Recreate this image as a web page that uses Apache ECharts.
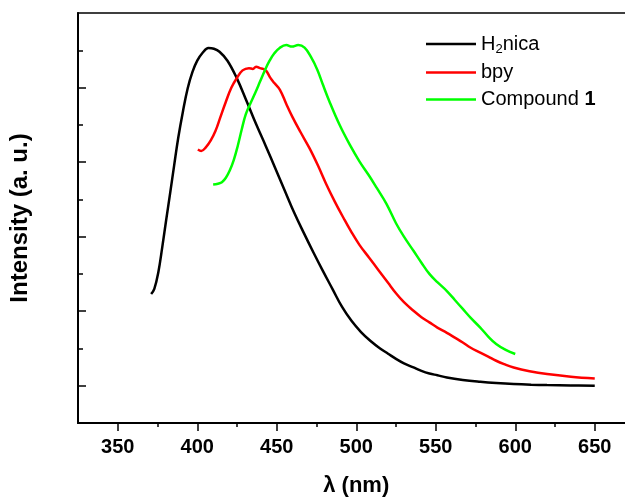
<!DOCTYPE html>
<html>
<head>
<meta charset="utf-8">
<script src="https://cdn.jsdelivr.net/npm/echarts@6/dist/echarts.min.js"></script>
<style>
html,body{margin:0;padding:0;background:#fff;}
#c{width:625px;height:497px;}
</style>
</head>
<body>
<div id="c"></div>
<script>
// wavelengths (nm) and intensities (a.u.)
var h2nicaX = [371,373,375.5,378,380.5,383,385.5,388,391,394,397,400,403.5,407,410.5,414,419,425,431,437,443,449,455,461,467,473,479,485,491,497,503,509,515,520,525,530,536,541,546,551,557,567,578,588,599,610,620,635,650];
var h2nicaY = [1.23,1.30,1.52,1.86,2.23,2.59,2.96,3.32,3.68,3.99,4.21,4.36,4.47,4.53,4.52,4.48,4.36,4.12,3.82,3.51,3.22,2.92,2.62,2.32,2.05,1.79,1.54,1.30,1.06,0.87,0.72,0.60,0.50,0.43,0.36,0.30,0.245,0.20,0.165,0.14,0.11,0.078,0.054,0.037,0.023,0.014,0.009,0.004,0.0];

var bpyX = [400.4,402.5,405.5,408.5,411.5,414.5,418,421.5,425,428.5,432.5,435,437,439.5,441.5,443.5,446,448.5,452,456,460,465,470.5,476,481,486.5,492,497,502,508,514,520,525,530,536,541,546,551,557,562,567,572,578,583,588,593,599,609,620,635,650];
var bpyY = [3.17,3.15,3.20,3.29,3.42,3.60,3.81,4.00,4.13,4.23,4.26,4.25,4.28,4.26,4.25,4.22,4.13,4.06,3.97,3.78,3.60,3.40,3.19,2.95,2.71,2.47,2.25,2.06,1.89,1.72,1.55,1.38,1.24,1.12,1.005,0.92,0.85,0.78,0.71,0.645,0.58,0.51,0.445,0.39,0.335,0.29,0.245,0.195,0.157,0.122,0.098];

var compX = [410,413,415.5,418,420.5,423,425.5,428,430.5,433.5,436.5,439.5,442.5,445.5,448.5,452,456,459.5,463.5,467.5,471.5,475.5,479,483,489.5,496,502,508,513,519,525,530,536,541,546,551,557,562,567,572,578,583,588,594,600];
var compY = [2.70,2.71,2.73,2.79,2.89,3.03,3.22,3.44,3.64,3.79,3.93,4.08,4.23,4.36,4.46,4.535,4.57,4.55,4.57,4.535,4.41,4.24,4.04,3.82,3.50,3.23,3.01,2.82,2.65,2.44,2.18,2.00,1.81,1.65,1.50,1.39,1.27,1.15,1.03,0.91,0.78,0.66,0.56,0.48,0.425];

var xMajorTicks = [350,400,450,500,550,600,650];
var xMinorTicks = [375,425,475,525,575,625];
var yMajorTicks = [0,1,2,3,4];
var yMinorTicks = [0.5,1.5,2.5,3.5,4.5];

function pairs(xs, ys){ return xs.map(function(x,i){ return [x, ys[i]]; }); }

var FONT = '"Liberation Sans", Arial, sans-serif';
var chart = echarts.init(document.getElementById('c'), null, {renderer:'canvas'});
chart.setOption({
  backgroundColor:'#fff',
  animation:false,
  grid:{left:78, top:13, width:556.5, height:410, outerBoundsMode:'none', containLabel:false, show:true, borderColor:'#000', borderWidth:1.5, backgroundColor:'transparent'},
  legend:{
    orient:'vertical', left:421, top:29, itemWidth:50, itemHeight:2.5, itemGap:7,
    textStyle:{fontFamily:FONT, fontSize:20, color:'#000',
      rich:{
        n:{fontFamily:FONT, fontSize:20, color:'#000'},
        sub:{fontFamily:FONT, fontSize:13, color:'#000', verticalAlign:'bottom', padding:[10,0,0,0]},
        b:{fontFamily:FONT, fontSize:20, color:'#000', fontWeight:'bold'}
      }},
    formatter:function(name){
      if(name==='H2nica') return '{n|H}{sub|2}{n|nica}';
      if(name==='Compound 1') return '{n|Compound }{b|1}';
      return '{n|'+name+'}';
    },
    data:[{name:'H2nica', icon:'rect'},{name:'bpy', icon:'rect'},{name:'Compound 1', icon:'rect'}]
  },
  xAxis:[{
    type:'value', min:325, max:675, position:'bottom',
    name:'λ (nm)', nameLocation:'middle', nameGap:52,
    nameTextStyle:{fontFamily:FONT, fontSize:22, fontWeight:'bold', color:'#000'},
    axisLine:{show:true, onZero:false, lineStyle:{color:'#000', width:2}},
    axisTick:{show:true, inside:false, length:8, customValues:xMajorTicks, lineStyle:{color:'#000', width:1.5}},
    axisLabel:{show:true, customValues:xMajorTicks, margin:14, fontFamily:FONT, fontSize:20, fontWeight:'bold', color:'#000'},
    splitLine:{show:false}
  },{
    type:'value', min:325, max:675, position:'bottom',
    axisLine:{show:false, onZero:false},
    axisTick:{show:true, inside:false, length:4, customValues:xMinorTicks, lineStyle:{color:'#000', width:1.5}},
    axisLabel:{show:false},
    splitLine:{show:false}
  }],
  yAxis:[{
    type:'value', min:-0.5, max:5, position:'left',
    name:'Intensity (a. u.)', nameLocation:'middle', nameGap:46,
    nameTextStyle:{fontFamily:FONT, fontSize:24, fontWeight:'bold', color:'#000'},
    axisLine:{show:true, onZero:false, lineStyle:{color:'#000', width:2}},
    axisTick:{show:true, inside:true, length:8, customValues:yMajorTicks, lineStyle:{color:'#000', width:1.5}},
    axisLabel:{show:false},
    splitLine:{show:false}
  },{
    type:'value', min:-0.5, max:5, position:'left',
    axisLine:{show:false, onZero:false},
    axisTick:{show:true, inside:true, length:5, customValues:yMinorTicks, lineStyle:{color:'#000', width:1.5}},
    axisLabel:{show:false},
    splitLine:{show:false}
  }],
  series:[
    {name:'H2nica', type:'line', data:pairs(h2nicaX,h2nicaY), symbol:'none', smooth:0.4, lineStyle:{color:'#000000', width:2.5}, itemStyle:{color:'#000000'}},
    {name:'bpy', type:'line', data:pairs(bpyX,bpyY), symbol:'none', smooth:0.4, lineStyle:{color:'#ff0000', width:2.5}, itemStyle:{color:'#ff0000'}},
    {name:'Compound 1', type:'line', data:pairs(compX,compY), symbol:'none', smooth:0.4, lineStyle:{color:'#00ff00', width:2.5}, itemStyle:{color:'#00ff00'}}
  ]
});
</script>
</body>
</html>
